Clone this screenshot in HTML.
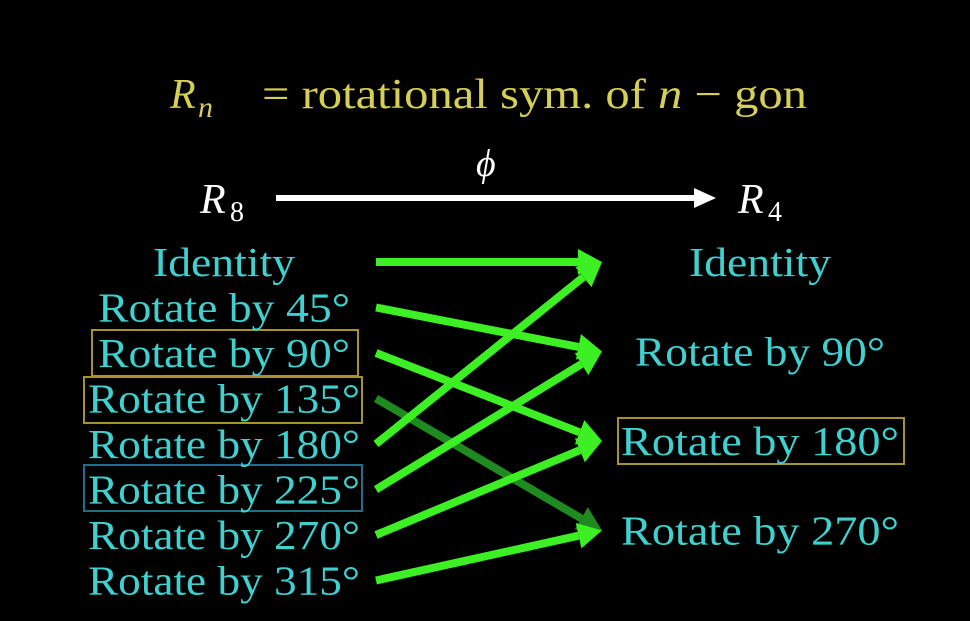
<!DOCTYPE html>
<html><head><meta charset="utf-8"><style>
html,body{margin:0;padding:0;background:#000;}
svg{display:block;}
text{font-family:"Liberation Serif",serif;}
</style></head><body>
<svg id="c" width="970" height="621" viewBox="0 0 970 621">
<rect width="970" height="621" fill="#000"/>
<g fill="#d6cf55" font-size="42">
<text x="170" y="108" font-style="italic">R</text><text x="198" y="117" font-style="italic" font-size="30">n</text>
<text x="262" y="108" textLength="545" lengthAdjust="spacingAndGlyphs">= rotational sym.  of <tspan font-style="italic">n</tspan> − gon</text>
</g>
<g fill="#fff">
<text x="200" y="213" font-size="42" font-style="italic">R</text><text x="230" y="221" font-size="28">8</text>
<text x="476" y="176" font-size="38" font-style="italic">ϕ</text>
<line x1="276" y1="198" x2="698" y2="198" stroke="#fff" stroke-width="6"/>
<polygon points="716,198 694,188 694,208" fill="#fff"/>
<text x="738" y="213" font-size="42" font-style="italic">R</text><text x="768" y="221" font-size="28">4</text>
</g>
<g id="boxes" fill="none" stroke-width="2">
<rect x="92" y="330" width="266" height="46" stroke="#a8922a"/>
<rect x="84" y="377" width="278" height="46" stroke="#a8922a"/>
<rect x="84" y="465" width="278" height="46" stroke="#1f6f8a"/>
<rect x="618" y="418" width="286" height="46" stroke="#a8922a"/>
</g>
<g id="labels"></g>
<g id="arrows"></g>
</svg>
<script>
const sourceLabels=["Identity","Rotate by 45°","Rotate by 90°","Rotate by 135°","Rotate by 180°","Rotate by 225°","Rotate by 270°","Rotate by 315°"];
const targetLabels=["Identity","Rotate by 90°","Rotate by 180°","Rotate by 270°"];
const mapping=[0,1,2,3,0,1,2,3];
const dimmed=[false,false,false,true,false,false,false,false];
const NS="http://www.w3.org/2000/svg";
const srcY=i=>262+i*45.5;
const tgtY=j=>262+j*89.5;
const srcWidths=l=>l==="Identity"?142:(l.length>=14?272:252);
const tgtWidth=l=>l==="Identity"?142:(l.length>=14?278:250);
const lab=document.getElementById('labels');
sourceLabels.forEach((l,i)=>{
  const t=document.createElementNS(NS,'text');
  
  
  t.setAttribute('x',224);t.setAttribute('y',srcY(i)+14);
  t.setAttribute('text-anchor','middle');t.setAttribute('font-size','41');
  t.setAttribute('fill','#3fd0d0');
  t.setAttribute('textLength',srcWidths(l));t.setAttribute('lengthAdjust','spacingAndGlyphs');
  t.textContent=l;lab.appendChild(t);
});
targetLabels.forEach((l,j)=>{
  const t=document.createElementNS(NS,'text');
  
  
  t.setAttribute('x',760);t.setAttribute('y',tgtY(j)+14);
  t.setAttribute('text-anchor','middle');t.setAttribute('font-size','41');
  t.setAttribute('fill','#3fd0d0');
  t.setAttribute('textLength',tgtWidth(l));t.setAttribute('lengthAdjust','spacingAndGlyphs');
  t.textContent=l;lab.appendChild(t);
});
const ar=document.getElementById('arrows');
mapping.forEach((m,i)=>{
  const x1=376,y1=srcY(i),x2=602,y2=tgtY(m);
  const col=dimmed[i]?'#1f8a1f':'#3cf024';
  const dx=x2-x1,dy=y2-y1,L=Math.hypot(dx,dy),ux=dx/L,uy=dy/L;
  const bx=x2-ux*24,by=y2-uy*24;
  const g=document.createElementNS(NS,'g');
  
  
  const ln=document.createElementNS(NS,'line');
  ln.setAttribute('x1',x1);ln.setAttribute('y1',y1);ln.setAttribute('x2',bx);ln.setAttribute('y2',by);
  ln.setAttribute('stroke',col);ln.setAttribute('stroke-width',8);
  const p=document.createElementNS(NS,'polygon');
  p.setAttribute('points',`${x2},${y2} ${bx-uy*13},${by+ux*13} ${bx+uy*13},${by-ux*13}`);
  p.setAttribute('fill',col);
  g.appendChild(ln);g.appendChild(p);
  if(dimmed[i]) ar.insertBefore(g,ar.firstChild); else ar.appendChild(g);
});
</script>
</body></html>
